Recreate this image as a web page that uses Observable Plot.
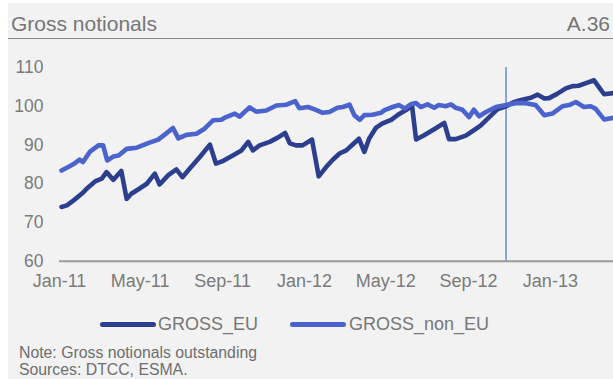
<!DOCTYPE html>
<html>
<head>
<meta charset="utf-8">
<script src="https://cdn.jsdelivr.net/npm/d3@7"></script>
<script src="https://cdn.jsdelivr.net/npm/@observablehq/plot@0.6"></script>
<style>
  html, body { margin: 0; padding: 0; background: #ffffff; }
  body { width: 613px; height: 379px; position: relative; overflow: hidden;
         font-family: "Liberation Sans", Arial, sans-serif; }
  #panel { position: absolute; left: 8px; top: 3px; width: 605px; height: 376px; background: #f2f2f2; }
  #title { position: absolute; left: 11px; top: 13px; font-size: 21px; color: #767676; line-height: 1; white-space: nowrap; }
  #num { position: absolute; right: 3px; top: 13px; font-size: 21px; color: #767676; line-height: 1; }
  #rule { position: absolute; left: 8px; top: 38px; width: 605px; height: 0; border-top: 1.5px solid #8c8c8c; }
  #chart { position: absolute; left: 0; top: 50px; }
  #legend { position: absolute; top: 313px; left: 0; width: 613px; height: 22px; font-size: 18px; color: #767676; }
  .sw { position: absolute; top: 9px; height: 5px; border-radius: 3px; }
  .lt { position: absolute; top: 0; line-height: 22px; white-space: nowrap; }
  #note { position: absolute; left: 19px; top: 344px; font-size: 15.8px; color: #6e6e6e; line-height: 17px; white-space: nowrap; }
</style>
</head>
<body>
<div id="panel"></div>
<div id="title">Gross notionals</div>
<div id="num">A.36</div>
<div id="rule"></div>
<div id="chart"></div>
<div id="legend"></div>
<div id="note">Note: Gross notionals outstanding<br>Sources: DTCC, ESMA.</div>
<script>
const seriesNames = ["GROSS_EU", "GROSS_non_EU"];
const seriesColors = ["#2c3f8f", "#4a63cd"];

const euDates = ["2011-01-04","2011-01-12","2011-01-22","2011-02-03","2011-02-13","2011-02-23","2011-03-05","2011-03-12","2011-03-22","2011-04-03","2011-04-11","2011-04-18","2011-04-28","2011-05-11","2011-05-23","2011-05-30","2011-06-12","2011-06-24","2011-07-03","2011-07-14","2011-07-29","2011-08-13","2011-08-22","2011-09-02","2011-09-16","2011-09-29","2011-10-09","2011-10-16","2011-10-26","2011-11-10","2011-11-22","2011-12-03","2011-12-10","2011-12-19","2011-12-29","2012-01-12","2012-01-22","2012-02-02","2012-02-12","2012-02-22","2012-03-03","2012-03-13","2012-03-22","2012-03-30","2012-04-06","2012-04-16","2012-04-26","2012-05-09","2012-05-21","2012-05-31","2012-06-09","2012-06-15","2012-06-27","2012-07-15","2012-07-27","2012-08-03","2012-08-13","2012-08-28","2012-09-09","2012-09-19","2012-10-02","2012-10-14","2012-10-27","2012-11-08","2012-11-20","2012-12-03","2012-12-13","2012-12-23","2012-12-30","2013-01-11","2013-01-24","2013-02-03","2013-02-12","2013-02-22","2013-03-07","2013-03-14","2013-03-22","2013-04-05"];
const euValues = [74.0,74.4,75.7,77.4,79.1,80.6,81.3,83.0,81.0,83.3,76.1,77.4,78.5,80.0,82.6,79.8,82.2,83.7,81.7,83.9,86.9,90.1,85.2,85.9,87.3,88.6,90.8,88.6,89.9,90.8,91.9,93.1,90.4,89.9,89.9,91.4,81.9,84.3,86.2,87.8,88.6,90.2,91.6,88.2,91.6,94.4,95.6,96.5,98.0,99.0,100.1,91.4,92.5,94.4,95.7,91.5,91.5,92.4,93.8,95.0,97.2,99.2,100.0,101.1,101.7,102.2,103.0,102.0,102.1,103.2,104.6,105.2,105.3,105.9,106.7,105.0,103.1,103.4];

const nonEuDates = ["2011-01-04","2011-01-14","2011-01-24","2011-01-31","2011-02-05","2011-02-15","2011-02-28","2011-03-07","2011-03-13","2011-03-22","2011-03-30","2011-04-11","2011-04-26","2011-05-15","2011-05-28","2011-06-09","2011-06-19","2011-06-27","2011-07-09","2011-07-24","2011-08-05","2011-08-18","2011-08-30","2011-09-06","2011-09-19","2011-09-26","2011-10-11","2011-10-21","2011-11-05","2011-11-20","2011-12-05","2011-12-18","2011-12-24","2012-01-06","2012-01-16","2012-01-28","2012-02-07","2012-02-19","2012-02-27","2012-03-08","2012-03-15","2012-03-23","2012-03-30","2012-04-11","2012-04-24","2012-04-29","2012-05-11","2012-05-21","2012-05-29","2012-06-08","2012-06-15","2012-06-22","2012-07-02","2012-07-12","2012-07-19","2012-07-29","2012-08-06","2012-08-13","2012-08-23","2012-09-02","2012-09-09","2012-09-17","2012-09-27","2012-10-12","2012-10-27","2012-11-10","2012-11-25","2012-12-10","2012-12-23","2013-01-04","2013-01-19","2013-01-29","2013-02-08","2013-02-20","2013-03-02","2013-03-09","2013-03-22","2013-04-05"];
const nonEuValues = [83.4,84.3,85.3,86.2,85.6,88.2,89.9,89.9,86.0,87.0,87.3,89.0,89.3,90.6,91.4,93.0,94.4,91.7,92.6,92.9,94.2,96.4,96.5,97.2,98.1,97.3,99.7,98.6,98.9,100.2,100.4,101.3,99.5,99.8,99.2,98.3,98.5,99.6,99.8,100.4,97.7,96.5,97.7,97.8,98.3,99.0,99.8,100.3,99.4,100.6,100.8,99.8,100.5,99.6,100.3,100.0,100.5,99.6,99.1,97.2,99.1,97.4,98.5,99.8,100.3,100.8,100.8,100.3,97.7,98.1,100.0,100.3,101.1,99.8,100.0,99.4,96.6,97.0];

const yTicks = [60, 70, 80, 90, 100, 110];
const xTickLabels = ["2011-01-01","2011-05-01","2011-09-01","2012-01-01","2012-05-01","2012-09-01","2013-01-01"];
const xDomain = ["2011-01-01", "2013-04-05"];
const baseDate = "2012-10-27";

const parse = d3.utcParse("%Y-%m-%d");
const eu = euDates.map((d, i) => ({date: parse(d), value: euValues[i], series: seriesNames[0]}));
const nonEu = nonEuDates.map((d, i) => ({date: parse(d), value: nonEuValues[i], series: seriesNames[1]}));

const chart = Plot.plot({
  width: 613,
  height: 250,
  marginLeft: 59,
  marginRight: 0,
  marginTop: 17,
  marginBottom: 39.3,
  style: {background: "transparent", fontFamily: "'Liberation Sans', Arial, sans-serif", fontSize: "17.5px", color: "#7a7a7a", overflow: "visible"},
  x: {type: "utc", domain: xDomain.map(parse)},
  y: {domain: [60, 110]},
  marks: [
    Plot.axisY({ticks: yTicks, tickSize: 0, tickPadding: 16, label: null, fontSize: 17.5}),
    Plot.axisX({ticks: xTickLabels.map(parse), tickSize: 0, tickPadding: 13, label: null, fontSize: 18, tickFormat: d3.utcFormat("%b-%y")}),
    Plot.ruleY([60], {stroke: "#9a9a9a", strokeWidth: 2}),
    Plot.ruleX([parse(baseDate)], {stroke: "#4f80c0", strokeWidth: 1.3}),
    Plot.line(eu, {x: "date", y: "value", stroke: seriesColors[0], strokeWidth: 4.6, strokeLinejoin: "round", strokeLinecap: "round"}),
    Plot.line(nonEu, {x: "date", y: "value", stroke: seriesColors[1], strokeWidth: 4.6, strokeLinejoin: "round", strokeLinecap: "round"})
  ]
});
document.getElementById("chart").appendChild(chart);

const legend = document.getElementById("legend");
const legendX = [[100, 158], [290, 349]];
seriesNames.forEach((name, i) => {
  const sw = document.createElement("div");
  sw.className = "sw";
  sw.style.left = legendX[i][0] + "px";
  sw.style.width = "56px";
  sw.style.background = seriesColors[i];
  legend.appendChild(sw);
  const t = document.createElement("div");
  t.className = "lt";
  t.style.left = legendX[i][1] + "px";
  t.textContent = name;
  legend.appendChild(t);
});
</script>
</body>
</html>
